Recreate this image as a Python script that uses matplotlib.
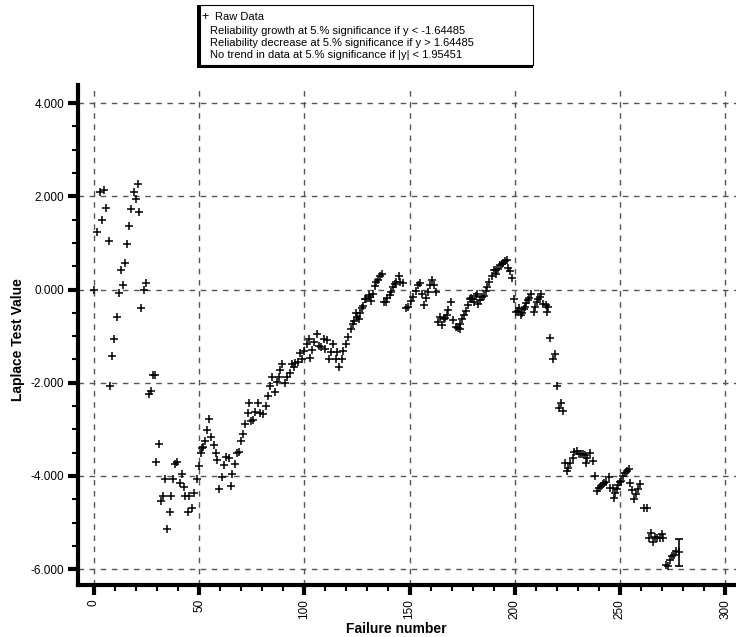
import matplotlib
matplotlib.use('Agg')
import matplotlib.pyplot as plt
from matplotlib.ticker import MultipleLocator, FormatStrFormatter
from matplotlib.patches import Rectangle

plt.rcParams['font.family'] = ['Liberation Sans', 'DejaVu Sans']

# failure number vs Laplace test value
failure_no = [
    0.0, 1.6, 2.9, 3.9, 4.8, 5.9, 7.0, 7.5, 8.6, 9.6,
    10.8, 11.8, 12.9, 13.8, 14.6, 15.6, 16.7, 17.8, 18.8, 19.9,
    21.0, 21.6, 22.4, 23.6, 24.8, 26.0, 27.0, 28.2, 29.2,
    29.5, 30.7, 31.9, 32.9, 33.7, 34.9, 36.0, 36.5, 37.5, 38.7,
    39.7, 40.8, 41.8, 43.0, 43.5, 44.6, 45.0, 46.5, 47.6, 48.8,
    49.9, 51.0, 51.3, 51.9, 52.6, 53.7, 54.8, 55.7, 56.9, 58.0,
    58.4, 59.5, 60.8, 61.8, 62.9, 64.0, 65.0, 65.6, 66.9, 67.8,
    68.8, 69.7, 71.0, 71.9, 73.0, 73.5, 74.8, 75.7, 76.7, 78.0,
    78.9, 80.2, 81.6, 82.6, 83.8, 84.8, 85.9, 86.8, 87.8, 88.6,
    89.5, 90.8, 91.9, 93.0, 94.1, 94.9, 95.7, 96.9, 97.8, 98.8,
    99.9, 101.3, 102.1, 102.6, 103.7, 104.8, 105.9, 106.9, 107.8, 109.4,
    109.7, 110.7, 111.8, 112.9, 113.8, 115.0, 115.7, 116.5, 117.8, 118.4,
    119.7, 120.8, 122.1, 122.9, 123.8, 124.6, 125.2, 126.2, 126.4, 127.6,
    128.0, 128.8, 129.4, 130.5, 131.0, 131.6, 132.7, 133.7, 134.3, 135.1,
    136.1, 137.0, 137.9, 138.9, 139.5, 140.5, 141.1, 142.1, 142.9, 143.5,
    145.0, 145.6, 146.7, 148.4, 149.5, 150.7, 151.6, 153.0, 153.8, 154.8,
    155.9, 156.9, 158.0, 158.9, 159.9, 160.5, 161.6, 162.7, 163.5,
    164.6, 165.6, 166.2, 167.1, 167.8, 168.4, 169.7, 170.5, 171.9, 172.9,
    173.8, 174.1, 175.1, 175.7, 176.7, 177.6, 178.6, 179.2, 179.9, 180.5,
    181.4, 182.1, 182.7, 183.7, 184.5, 185.2, 186.2, 187.0, 187.8, 189.0,
    190.0, 191.0, 191.0, 191.9, 192.9, 193.8, 194.5, 195.4, 196.4, 197.0,
    197.6, 198.9, 199.9,
    200.5, 201.4, 202.1, 203.0, 203.7, 204.3, 204.9, 205.2, 206.2, 206.9,
    207.8, 209.0, 209.7, 210.7, 211.3, 211.9, 212.6, 213.5, 214.8, 215.4,
    216.0, 217.0, 218.4, 219.3, 220.2, 221.1, 222.0, 223.0,
    224.0, 225.0, 225.3, 226.2, 227.5, 228.4, 229.4, 230.7, 231.6, 232.6,
    233.5, 234.1, 234.5, 235.7, 237.0, 238.0, 238.9, 239.9, 240.8, 241.8,
    242.4, 243.3, 244.9, 245.4, 246.6, 247.2, 247.8, 248.4, 249.0, 250.0,
    250.7, 251.6, 252.2, 253.2, 254.1, 255.0, 255.7, 256.7, 257.6, 258.6,
    259.5, 261.4, 262.7, 263.7, 264.6, 265.9, 266.9, 267.8, 269.1, 270.0,
    270.7, 271.9, 272.9, 273.8, 274.8, 275.7, 276.7, 278.0,
]
laplace = [
    0.00, 1.24, 2.09, 1.50, 2.13, 1.74, 1.05, -2.07, -1.42, -1.06,
    -0.59, -0.07, 0.43, 0.10, 0.56, 0.97, 1.36, 1.73, 2.09, 1.95,
    2.26, 1.67, -0.40, -0.01, 0.15, -2.25, -2.18, -1.83, -1.83,
    -3.69, -3.31, -4.54, -4.43, -4.06, -5.13, -4.77, -4.42, -4.06, -3.74,
    -3.71, -4.15, -3.96, -4.23, -4.44, -4.77, -4.44, -4.68, -4.37, -4.06,
    -3.79, -3.50, -3.40, -3.38, -3.25, -3.02, -2.78, -3.16, -3.34, -3.50,
    -3.66, -4.27, -4.03, -3.77, -3.60, -3.62, -4.21, -3.96, -3.74, -3.50,
    -3.49, -3.26, -3.10, -2.89, -2.65, -2.43, -2.83, -2.80, -2.62, -2.43,
    -2.65, -2.68, -2.49, -2.29, -2.08, -1.88, -2.19, -1.99, -1.88, -1.73,
    -1.59, -2.00, -1.88, -1.79, -1.60, -1.66, -1.57, -1.55, -1.37, -1.48,
    -1.32, -1.16, -1.06, -1.47, -1.29, -1.12, -0.96, -1.22, -1.23, -1.06,
    -1.27, -1.09, -1.48, -1.33, -1.16, -1.48, -1.33, -1.66, -1.48, -1.32,
    -1.17, -1.02, -0.84, -0.73, -0.67, -0.50, -0.59, -0.64, -0.50, -0.39,
    -0.36, -0.21, -0.21, -0.12, -0.16, -0.24, -0.09, 0.07, 0.16, 0.20,
    0.29, 0.33, -0.26, -0.26, -0.19, -0.12, -0.05, 0.05, 0.11, 0.16,
    0.30, 0.16, 0.14, -0.39, -0.38, -0.24, -0.17, -0.04, 0.10, 0.14,
    -0.10, -0.33, -0.19, -0.05, 0.10, 0.21, 0.10, -0.06, -0.70,
    -0.58, -0.75, -0.64, -0.60, -0.54, -0.43, -0.27, -0.65, -0.80, -0.83,
    -0.84, -0.73, -0.64, -0.54, -0.46, -0.33, -0.21, -0.18, -0.21, -0.27,
    -0.14, -0.10, -0.32, -0.23, -0.17, -0.14, -0.04, 0.06, 0.17, 0.29,
    0.41, 0.43, 0.34, 0.44, 0.52, 0.54, 0.57, 0.62, 0.64, 0.46,
    0.39, 0.24, -0.21,
    -0.48, -0.45, -0.40, -0.54, -0.51, -0.41, -0.37, -0.29, -0.23, -0.19,
    -0.09, -0.49, -0.37, -0.27, -0.21, -0.17, -0.10, -0.31, -0.34, -0.49,
    -0.37, -1.05, -1.49, -1.39, -2.07, -2.54, -2.44, -2.60,
    -3.72, -3.89, -3.82, -3.72, -3.61, -3.49, -3.46, -3.53, -3.53, -3.53,
    -3.55, -3.73, -3.62, -3.50, -3.68, -4.01, -4.32, -4.26, -4.22, -4.18,
    -4.15, -4.12, -4.03, -4.26, -4.26, -4.47, -4.37, -4.27, -4.19, -4.13,
    -4.10, -4.00, -3.93, -3.89, -3.85, -4.15, -4.31, -4.49, -4.38, -4.28,
    -4.18, -4.68, -4.69, -5.34, -5.22, -5.41, -5.31, -5.34, -5.34, -5.24,
    -5.34, -5.91, -5.93, -5.81, -5.72, -5.69, -5.61, -5.64,
]
last_err = 0.285

legend_lines = [
    'Reliability growth at 5.% significance if y < -1.64485',
    'Reliability decrease at 5.% significance if y > 1.64485',
    'No trend in data at 5.% significance if |y| < 1.95451',
]

W, H = 736, 637
fig = plt.figure(figsize=(W / 100, H / 100), dpi=100)
ax = fig.add_axes([78 / W, 52 / H, 658 / W, 500 / H])

ax.plot(failure_no, laplace, linestyle='none', marker='+', color='black',
        markersize=6, markeredgewidth=1.1)
ax.errorbar(failure_no[-1], laplace[-1], yerr=last_err, fmt='none',
            ecolor='black', elinewidth=1.2, capsize=3, capthick=1.2)

ax.set_xlim(-7.6, 305.2)
ax.set_ylim(-6.34, 4.39)

ax.xaxis.set_major_locator(MultipleLocator(50))
ax.xaxis.set_minor_locator(MultipleLocator(10))
ax.yaxis.set_major_locator(MultipleLocator(2))
ax.yaxis.set_minor_locator(MultipleLocator(0.5))
ax.yaxis.set_major_formatter(FormatStrFormatter('%.3f'))

for s in ['top', 'right']:
    ax.spines[s].set_visible(False)
for s in ['left', 'bottom']:
    ax.spines[s].set_linewidth(3)

ax.tick_params(which='major', length=7, width=3, labelsize=8.5, pad=3)
ax.tick_params(which='minor', length=4, width=1.5)
ax.tick_params(axis='x', labelrotation=90)

ax.grid(True, which='major', linestyle=(0, (4, 4)), color='#555555', linewidth=1)
ax.set_axisbelow(True)

ax.set_xlabel('Failure number', fontsize=10, fontweight='bold')
ax.xaxis.set_label_coords((396 - 78) / 658, -0.074)
ax.set_ylabel('Laplace Test Value', fontsize=10, fontweight='bold')
ax.yaxis.set_label_coords(-0.08, 0.49)

# legend box with drop shadow
fig.patches.append(Rectangle((197 / W, 1 - 68 / H), 336 / W, 63 / H,
                             transform=fig.transFigure, facecolor='black',
                             edgecolor='none', zorder=1))
fig.patches.append(Rectangle((200 / W, 1 - 65 / H), 333 / W, 60 / H,
                             transform=fig.transFigure, facecolor='white',
                             edgecolor='black', linewidth=0.8, zorder=2))
fig.text(205 / W, 1 - 17 / H, '+', fontsize=9, ha='center', va='center', zorder=3)
fig.text(215 / W, 1 - 17 / H, 'Raw Data', fontsize=8, va='center', zorder=3)
for i, line in enumerate(legend_lines):
    fig.text(210 / W, 1 - (31.5 + 11.7 * i) / H, line, fontsize=8,
             va='center', zorder=3)

fig.savefig('out.png', dpi=100)
